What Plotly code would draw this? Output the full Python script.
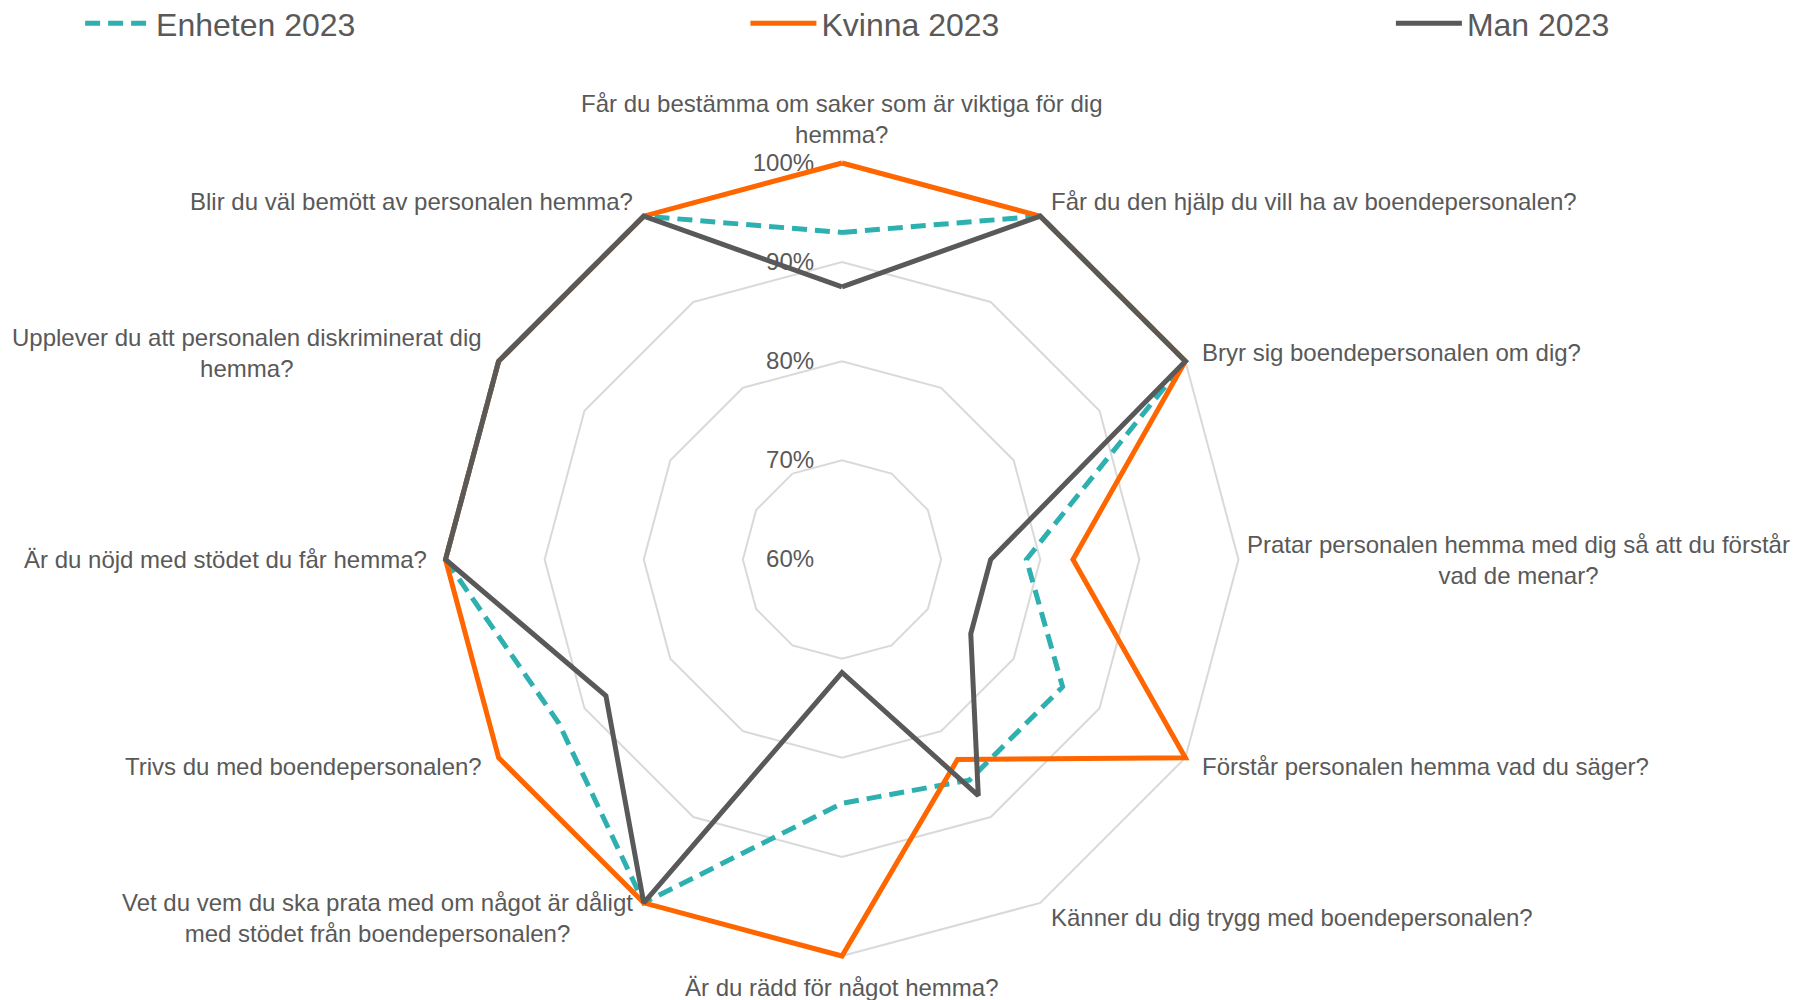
import math
import plotly.graph_objects as go

categories = [
    "Får du bestämma om saker som är viktiga för dig<br>hemma?",
    "Får du den hjälp du vill ha av boendepersonalen?",
    "Bryr sig boendepersonalen om dig?",
    "Pratar personalen hemma med dig så att du förstår<br>vad de menar?",
    "Förstår personalen hemma vad du säger?",
    "Känner du dig trygg med boendepersonalen?",
    "Är du rädd för något hemma?",
    "Vet du vem du ska prata med om något är dåligt<br>med stödet från boendepersonalen?",
    "Trivs du med boendepersonalen?",
    "Är du nöjd med stödet du får hemma?",
    "Upplever du att personalen diskriminerat dig<br>hemma?",
    "Blir du väl bemött av personalen hemma?",
]

enheten_2023 = [93.0, 100, 100, 78.6, 85.7, 85.7, 84.6, 100, 93.0, 100, 100, 100]
kvinna_2023 = [100, 100, 100, 83.3, 100, 83.3, 100, 100, 100, 100, 100, 100]
man_2023 = [87.5, 100, 100, 75.0, 75.0, 87.5, 71.4, 100, 87.5, 100, 100, 100]

radial_ticks = [60, 70, 80, 90, 100]

TEXT = "#595959"
GRID = "#D9D9D9"
FONT = "Liberation Sans, Arial, sans-serif"

# layout geometry (figure pixels)
W, H = 1803, 1000
CX, CY = 834.0, 551.5          # centre of the radar
R100 = 396.5                   # radius of the 100% ring
RMAX = 101                     # axis max (slightly above 100 so edge lines are not clipped)
R_FULL = R100 * (RMAX - 60) / 40


def closed(v):
    return list(v) + [v[0]]


fig = go.Figure()
fig.add_trace(go.Scatterpolar(
    r=closed(enheten_2023), theta=closed(categories), mode="lines",
    name="Enheten 2023", legend="legend", cliponaxis=False,
    line=dict(color="#2EB0B0", width=5, dash="15px,8px"),
))
fig.add_trace(go.Scatterpolar(
    r=closed(kvinna_2023), theta=closed(categories), mode="lines",
    name="Kvinna 2023", legend="legend2", cliponaxis=False,
    line=dict(color="#FF6600", width=5),
))
fig.add_trace(go.Scatterpolar(
    r=closed(man_2023), theta=closed(categories), mode="lines",
    name="Man 2023", legend="legend3", cliponaxis=False,
    line=dict(color="#595959", width=5),
))

# category labels placed just outside the 100% ring, centred text like the original
annotations = []
n = len(categories)
for i, label in enumerate(categories):
    phi = math.radians(360.0 * i / n)
    sx, sy = math.sin(phi), -math.cos(phi)
    if abs(sx) < 1e-6:
        dist = R100 + (44 if sy < 0 else 31)
        xanchor = "center"
    else:
        dist = R100 + 17
        if abs(sy) < 1e-6 and sx > 0:
            dist = R100 + 6      # keep the long right-hand label inside the page
        xanchor = "left" if sx > 0 else "right"
    px = CX + dist * sx
    py = CY + dist * sy
    annotations.append(dict(
        text=label, x=px / W, y=1 - py / H, xref="paper", yref="paper",
        xanchor=xanchor, yanchor="middle", align="center", showarrow=False,
        font=dict(family=FONT, size=24, color=TEXT),
    ))

leg_common = dict(
    orientation="h", yanchor="middle", y=0.9845, xanchor="left",
    font=dict(family=FONT, size=32, color=TEXT), itemwidth=66,
    bgcolor="rgba(0,0,0,0)",
)

fig.update_layout(
    width=W, height=H,
    margin=dict(l=0, r=0, t=0, b=0, autoexpand=False),
    paper_bgcolor="white", plot_bgcolor="white",
    font=dict(family=FONT, size=24, color=TEXT),
    showlegend=True,
    legend=dict(x=0.040, **leg_common),
    legend2=dict(x=0.409, **leg_common),
    legend3=dict(x=0.767, **leg_common),
    annotations=annotations,
    polar=dict(
        domain=dict(
            x=[(CX - R_FULL) / W, (CX + R_FULL) / W],
            y=[(H - CY - R_FULL) / H, (H - CY + R_FULL) / H],
        ),
        bgcolor="white",
        gridshape="linear",
        radialaxis=dict(
            range=[60, RMAX], tickvals=radial_ticks,
            ticktext=[f"{v}%" for v in radial_ticks],
            angle=90, tickangle=90, side="counterclockwise",
            showline=False, ticks="outside", ticklen=19,
            tickcolor="rgba(0,0,0,0)", gridcolor=GRID, gridwidth=1.5,
            tickfont=dict(family=FONT, size=24, color=TEXT),
            layer="below traces",
        ),
        angularaxis=dict(
            direction="clockwise", rotation=90,
            showgrid=False, showline=False, ticks="",
            showticklabels=False,
            layer="below traces",
        ),
    ),
)

fig.write_html("out.html")
